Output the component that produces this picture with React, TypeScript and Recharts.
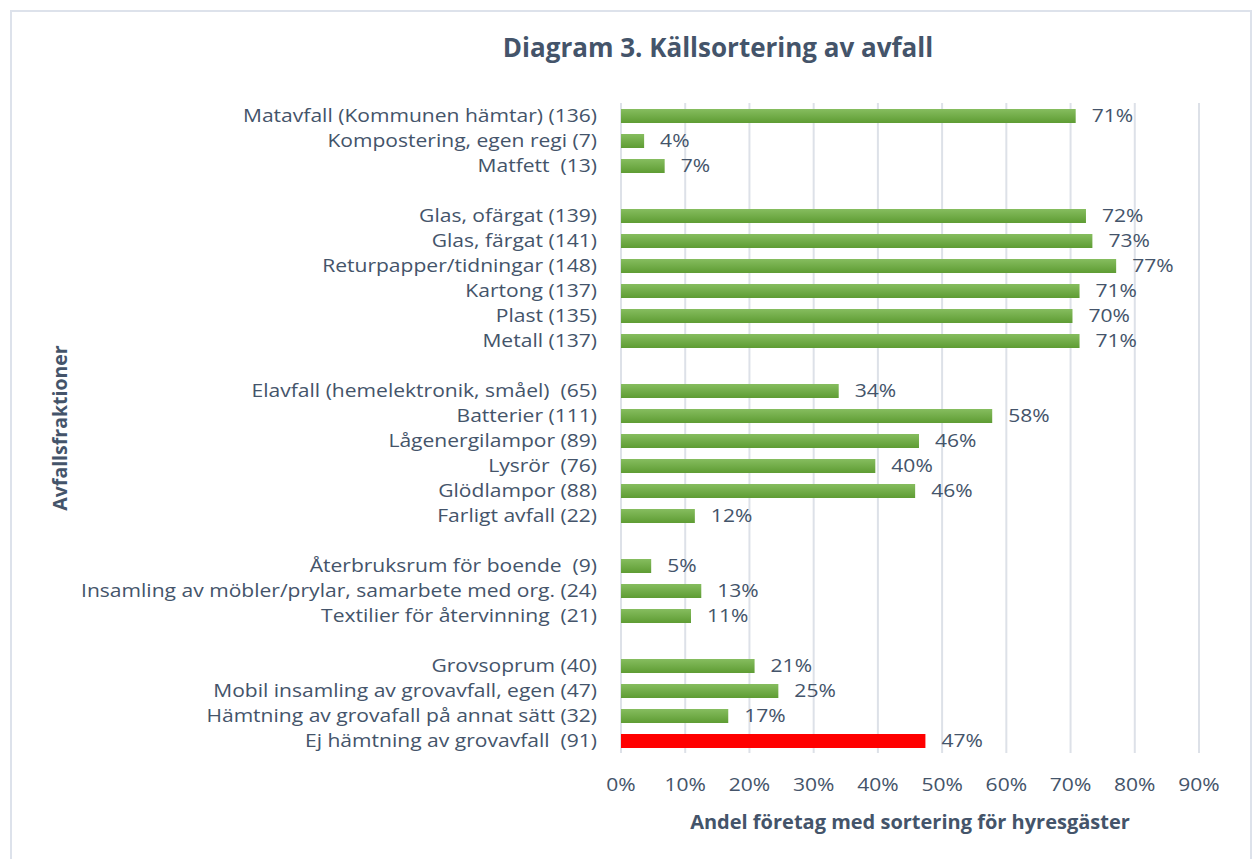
import { BarChart, Bar, XAxis, YAxis, CartesianGrid, Cell, LabelList } from 'recharts';

const NB = '\u00a0';

// blank rows (different number of spaces) separate the groups
const categories = [
  'Matavfall (Kommunen hämtar) (136)',
  'Kompostering, egen regi (7)',
  `Matfett${NB} (13)`,
  ' ',
  'Glas, ofärgat (139)',
  'Glas, färgat (141)',
  'Returpapper/tidningar (148)',
  'Kartong (137)',
  'Plast (135)',
  'Metall (137)',
  '  ',
  `Elavfall (hemelektronik, småel)${NB} (65)`,
  'Batterier (111)',
  'Lågenergilampor (89)',
  `Lysrör${NB} (76)`,
  'Glödlampor (88)',
  'Farligt avfall (22)',
  '   ',
  `Återbruksrum för boende${NB} (9)`,
  'Insamling av möbler/prylar, samarbete med org. (24)',
  `Textilier för återvinning${NB} (21)`,
  '    ',
  'Grovsoprum (40)',
  'Mobil insamling av grovavfall, egen (47)',
  'Hämtning av grovafall på annat sätt (32)',
  `Ej hämtning av grovavfall${NB} (91)`,
];

const shares = [
  70.8, 3.6, 6.8, null,
  72.4, 73.4, 77.1, 71.4, 70.3, 71.4, null,
  33.9, 57.8, 46.4, 39.6, 45.8, 11.5, null,
  4.7, 12.5, 10.9, null,
  20.8, 24.5, 16.7, 47.4,
];

const xTicks = [0, 10, 20, 30, 40, 50, 60, 70, 80, 90];

const data = categories.map((name, i) => ({ name, share: shares[i] }));

const textColor = '#44546a';
const font = '"Open Sans", sans-serif';

// the source text is a wide Calibri; a slightly stretched Open Sans looks close
function Wide({ x, y, anchor, dy, children }: any) {
  return (
    <g transform={`translate(${x},${y})`}>
      <text transform="scale(1.17,1)" textAnchor={anchor} dy={dy} fill={textColor} fontSize={18} fontFamily={font}>
        {children}
      </text>
    </g>
  );
}

const YTick = (p: any) => (
  <Wide x={p.x} y={p.y} anchor="end" dy="0.36em">{p.payload.value}</Wide>
);

const XTick = (p: any) => (
  <Wide x={p.x} y={p.y} anchor="middle" dy="0.71em">{`${p.payload.value}%`}</Wide>
);

const BarLabel = (p: any) => {
  if (p.value == null) return null;
  return (
    <Wide x={p.x + p.width + 16} y={p.y + p.height / 2} anchor="start" dy="0.36em">
      {`${Math.round(p.value)}%`}
    </Wide>
  );
};

export default function App() {
  return (
    <div style={{ position: 'absolute', left: 0, top: 0, width: 1256, height: 859, background: '#fff', overflow: 'hidden', fontFamily: font }}>
      <div style={{ position: 'absolute', left: 10, top: 10, width: 1238, height: 900, border: '2px solid #dde2eb' }} />
      <div style={{ position: 'absolute', left: 0, width: 1436, top: 30, lineHeight: '34px', textAlign: 'center', fontSize: 26, fontWeight: 700, color: textColor }}>
        Diagram 3. Källsortering av avfall
      </div>
      <div style={{ position: 'absolute', left: 60, top: 428, lineHeight: '24px', transform: 'translate(-50%, -50%) rotate(-90deg)', whiteSpace: 'nowrap', fontSize: 19.5, fontWeight: 700, color: textColor }}>
        Avfallsfraktioner
      </div>
      <div style={{ position: 'absolute', left: 621, width: 578, top: 809, lineHeight: '26px', textAlign: 'center', fontSize: 20, fontWeight: 700, color: textColor }}>
        Andel företag med sortering för hyresgäster
      </div>
      <BarChart
        width={1256}
        height={859}
        data={data}
        layout="vertical"
        margin={{ top: 103, right: 57, bottom: 76, left: 0 }}
        style={{ position: 'absolute', left: 0, top: 0 }}
      >
        <defs>
          <linearGradient id="green" x1="0" y1="0" x2="0" y2="1">
            <stop offset="0%" stopColor="#86bd5f" />
            <stop offset="100%" stopColor="#5e9c33" />
          </linearGradient>
        </defs>
        <CartesianGrid horizontal={false} stroke="#dde1e8" strokeWidth={2} />
        <XAxis
          type="number"
          domain={[0, 90]}
          ticks={xTicks}
          axisLine={false}
          tickLine={false}
          tickSize={6}
          tickMargin={19}
          tick={XTick}
        />
        <YAxis
          type="category"
          dataKey="name"
          width={621}
          interval={0}
          axisLine={false}
          tickLine={false}
          tickSize={6}
          tickMargin={18}
          tick={YTick}
        />
        <Bar dataKey="share" barSize={14} fill="url(#green)" isAnimationActive={false}>
          {data.map((d, i) => (
            <Cell key={i} fill={i === data.length - 1 ? '#ff0000' : 'url(#green)'} />
          ))}
          <LabelList dataKey="share" content={BarLabel} />
        </Bar>
      </BarChart>
    </div>
  );
}
